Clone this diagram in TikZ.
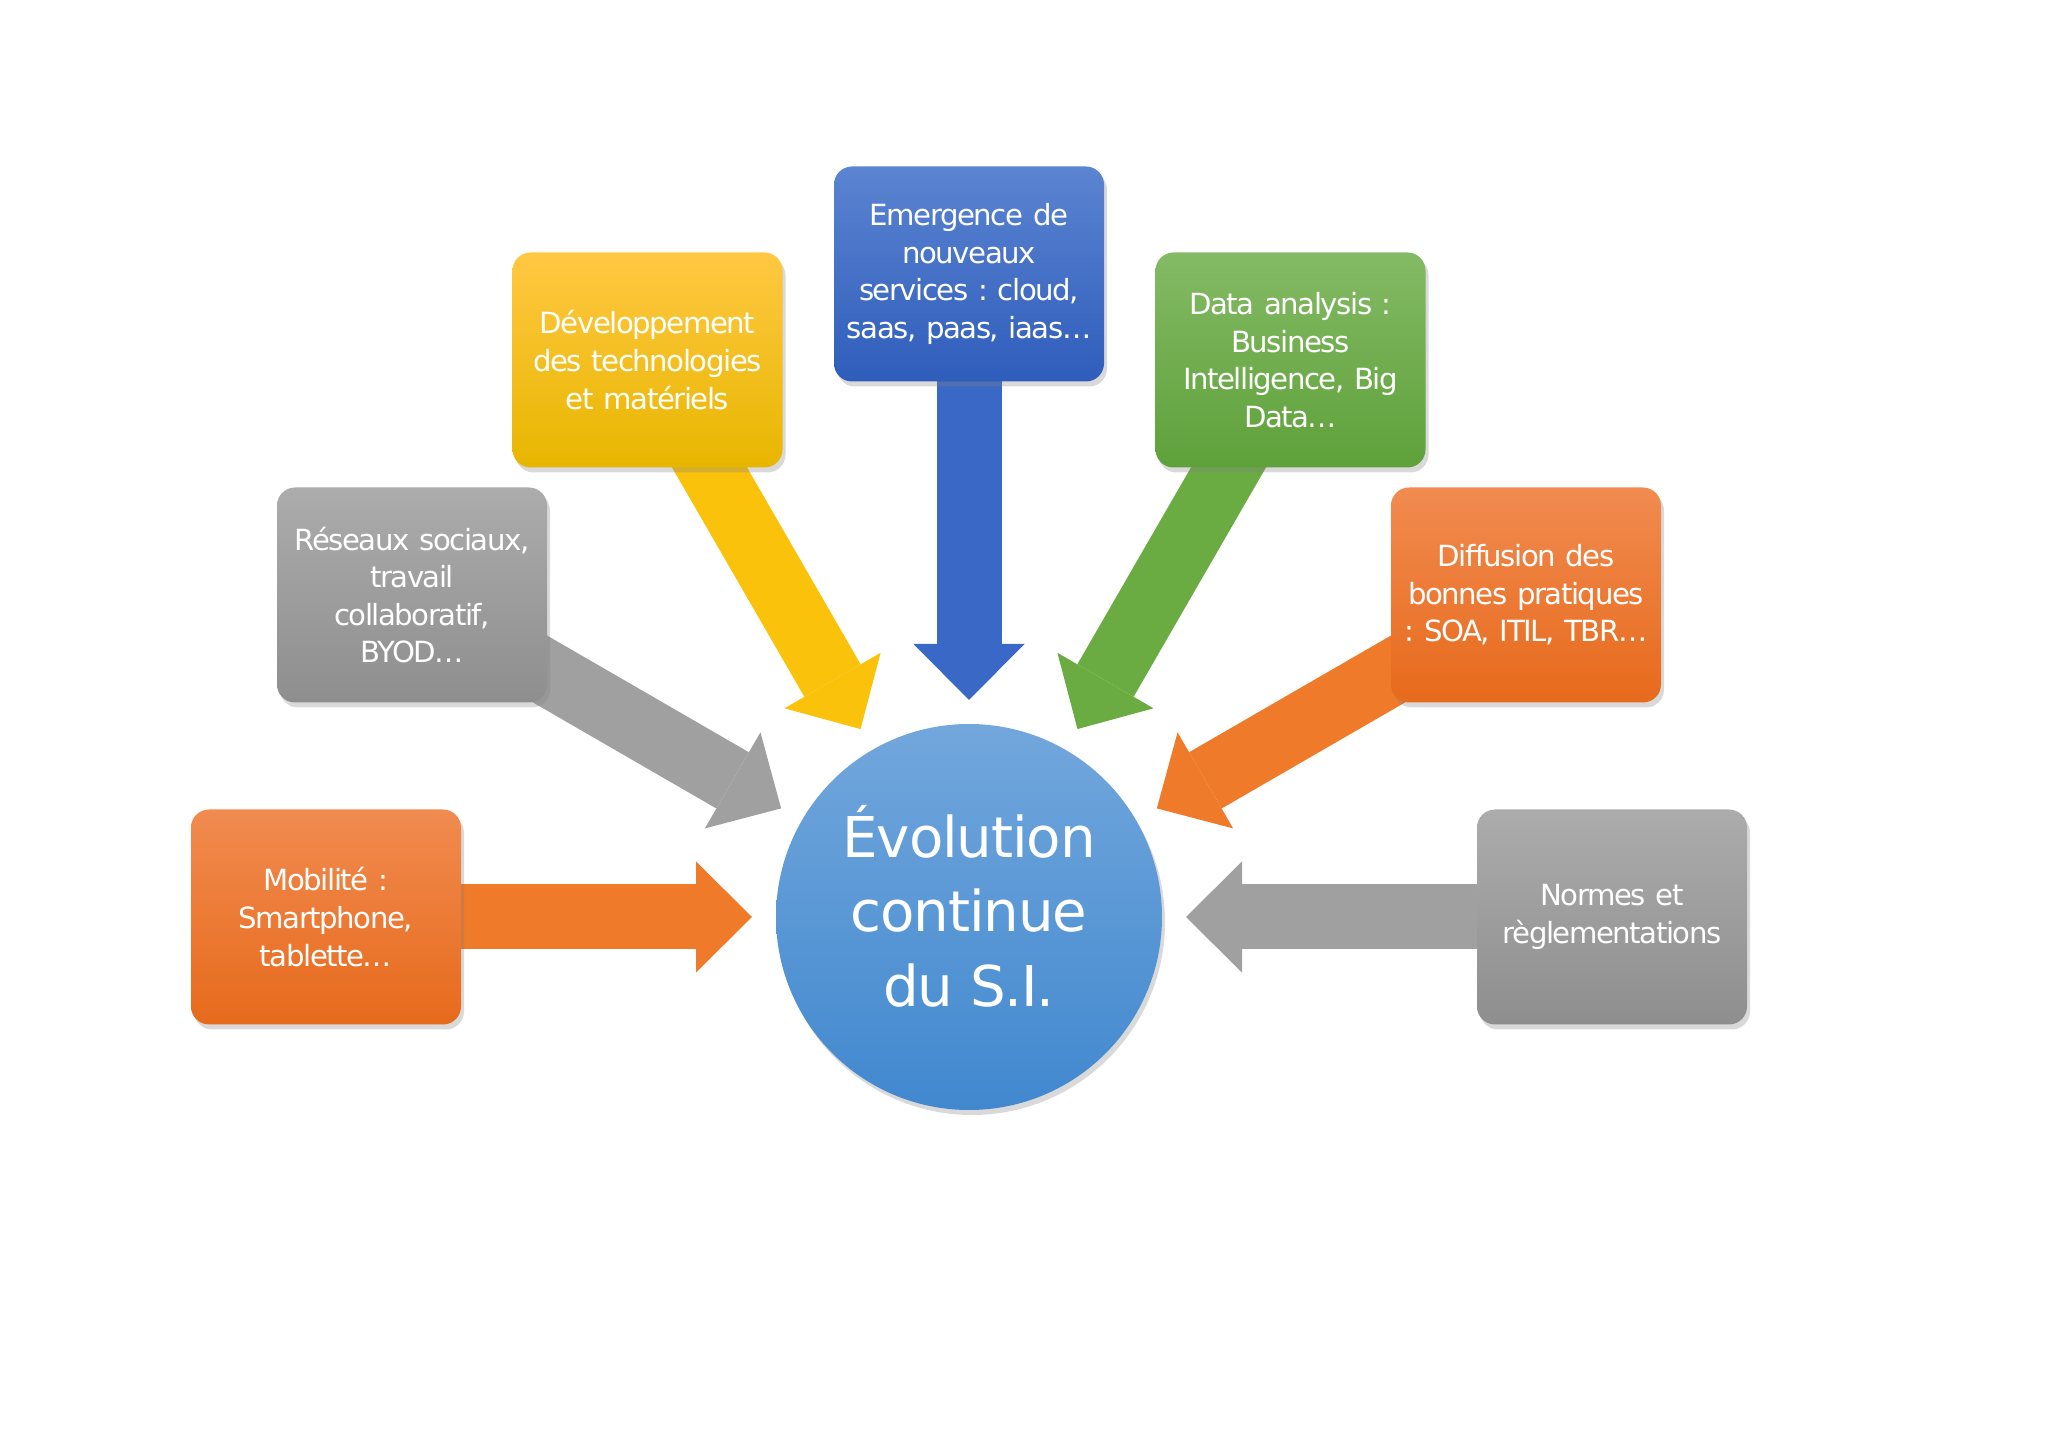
\documentclass[tikz,border=0pt]{standalone}
\usepackage{fontspec}
\setmainfont{DejaVu Sans}
\newfontfamily\boxfont{DejaVu Sans}[LetterSpace=-5]
\newfontfamily\evofont{DejaVu Sans}[LetterSpace=-2]
\usetikzlibrary{arrows.meta,shadows}
\pgfdeclarelayer{back}
\pgfsetlayers{back,main}

\definecolor{orTop}{RGB}{241,139,80}
\definecolor{orBot}{RGB}{231,106,28}
\definecolor{orArr}{RGB}{238,122,42}
\definecolor{grTop}{RGB}{172,172,172}
\definecolor{grBot}{RGB}{142,142,142}
\definecolor{grArr}{RGB}{160,160,160}
\definecolor{yeTop}{RGB}{255,200,66}
\definecolor{yeBot}{RGB}{232,182,0}
\definecolor{yeArr}{RGB}{250,194,10}
\definecolor{blTop}{RGB}{91,132,209}
\definecolor{blBot}{RGB}{47,93,187}
\definecolor{blArr}{RGB}{58,104,198}
\definecolor{gnTop}{RGB}{132,186,101}
\definecolor{gnBot}{RGB}{94,161,58}
\definecolor{gnArr}{RGB}{106,172,66}
\definecolor{ciTop}{RGB}{114,167,220}
\definecolor{ciBot}{RGB}{65,136,207}

\tikzset{
	box/.style={rectangle, rounded corners=0.18cm, minimum width=2.7cm, minimum height=2.15cm,
		text width=2.65cm, align=center, inner sep=0pt, text=white,
		font=\boxfont\fontsize{8.3}{10.7}\selectfont,
		drop shadow={shadow xshift=0.03cm, shadow yshift=-0.05cm, opacity=0.3}},
	orbox/.style={box, top color=orTop, bottom color=orBot},
	grbox/.style={box, top color=grTop, bottom color=grBot},
	yebox/.style={box, top color=yeTop, bottom color=yeBot},
	blbox/.style={box, top color=blTop, bottom color=blBot},
	gnbox/.style={box, top color=gnTop, bottom color=gnBot},
	evostyle/.style={circle, minimum size=3.86cm, inner sep=0pt, outer sep=0pt,
		top color=ciTop, bottom color=ciBot, text=white,
		font=\evofont\fontsize{16}{21.3}\selectfont,
		drop shadow={shadow xshift=0.03cm, shadow yshift=-0.05cm, opacity=0.3}},
	fat/.style={line width=0.65cm, shorten >=0.24cm,
		-{Triangle[length=0.56cm, width=1.11cm, line width=0pt]}}
}

\begin{document}
\frenchspacing
\begin{tikzpicture}
	\useasboundingbox (0, 0) rectangle (20.48, 14.48);
	
	%%%%% CENTRE %%%%%
	\node[evostyle] (evo) at (9.69, 5.31)
		{\raisebox{0.09cm}{\begin{tabular}{@{}c@{}}Évolution\\continue\\du S.I.\end{tabular}}};
	
	%%%%% BOXES %%%%%
	\node[orbox] (mob) at (3.26, 5.31) {Mobilité :\\Smartphone,\\tablette…};
	\node[grbox] (res) at (4.12, 8.53) {Réseaux sociaux,\\travail\\collaboratif,\\BYOD…};
	\node[yebox] (dev) at (6.475, 10.88) {Développement\\des technologies\\et matériels};
	\node[blbox] (eme) at (9.69, 11.74) {Emergence de\\nouveaux\\services : cloud,\\saas, paas, iaas…};
	\node[gnbox] (dat) at (12.905, 10.88) {Data analysis :\\Business\\Intelligence, Big\\Data…};
	\node[orbox] (dif) at (15.26, 8.53) {Diffusion des\\bonnes pratiques\\: SOA, ITIL, TBR…};
	\node[grbox] (nor) at (16.12, 5.31) {Normes et\\règlementations};
	
	%%%%% ARROWS %%%%%
	\begin{pgfonlayer}{back}
		\foreach \b/\c in {mob/orArr, res/grArr, dev/yeArr, eme/blArr, dat/gnArr, dif/orArr, nor/grArr}
			\draw[fat, draw=\c] (\b.center) -- (evo);
	\end{pgfonlayer}
\end{tikzpicture}
\end{document}
